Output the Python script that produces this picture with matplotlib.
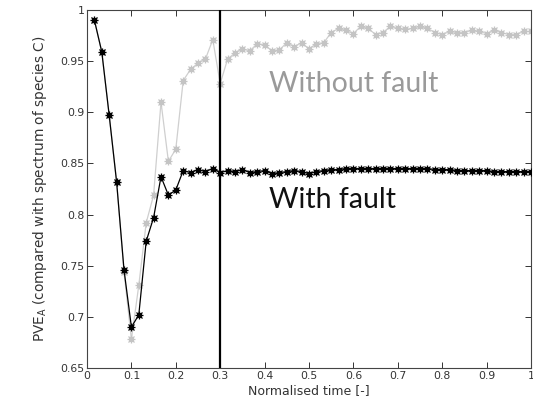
import matplotlib
matplotlib.use("Agg")
import matplotlib.pyplot as plt
import numpy as np

plt.rcParams['font.family'] = ['DejaVu Sans']

# x positions: k/60 for k=1..60
n_points = 60
time = [k / 60 for k in range(1, n_points + 1)]

with_fault = [
    0.990, 0.959, 0.897, 0.832, 0.746, 0.690, 0.702, 0.774, 0.797, 0.837,
    0.819, 0.824, 0.843, 0.841, 0.844, 0.842, 0.845, 0.841, 0.843, 0.842,
    0.844, 0.841, 0.842, 0.843, 0.840, 0.841, 0.842, 0.843, 0.842, 0.840,
    0.842, 0.843, 0.844, 0.844, 0.845, 0.845, 0.845, 0.845, 0.845, 0.845,
    0.845, 0.845, 0.845, 0.845, 0.845, 0.845, 0.844, 0.844, 0.844, 0.843,
    0.843, 0.843, 0.843, 0.843, 0.842, 0.842, 0.842, 0.842, 0.842, 0.842,
]

without_fault = [
    0.990, 0.959, 0.897, 0.832, 0.744, 0.678, 0.731, 0.792, 0.819, 0.910,
    0.852, 0.864, 0.931, 0.942, 0.948, 0.952, 0.971, 0.928, 0.952, 0.958,
    0.962, 0.960, 0.967, 0.966, 0.960, 0.961, 0.968, 0.964, 0.968, 0.962,
    0.967, 0.968, 0.978, 0.982, 0.980, 0.977, 0.984, 0.982, 0.976, 0.978,
    0.984, 0.982, 0.981, 0.982, 0.984, 0.982, 0.978, 0.976, 0.979, 0.978,
    0.978, 0.980, 0.979, 0.977, 0.980, 0.978, 0.976, 0.976, 0.979, 0.979,
]

fault_time = 0.3
x_ticks = [0, 0.1, 0.2, 0.3, 0.4, 0.5, 0.6, 0.7, 0.8, 0.9, 1]
x_ticklabels = ['0', '0.1', '0.2', '0.3', '0.4', '0.5', '0.6', '0.7', '0.8', '0.9', '1']
y_ticks = [0.65, 0.7, 0.75, 0.8, 0.85, 0.9, 0.95, 1]
y_ticklabels = ['0.65', '0.7', '0.75', '0.8', '0.85', '0.9', '0.95', '1']

fig = plt.figure(figsize=(5.33, 4.11), dpi=100)
ax = fig.add_axes([87 / 533, 1 - 368 / 411, (531 - 87) / 533, (368 - 10) / 411])


def draw_series(y, line_col, mark_col, z):
    ax.plot(time, y, color=line_col, lw=0.9, zorder=z)
    ax.plot(time, y, ls='none', marker='o', ms=4.0, mfc=mark_col, mec=mark_col, mew=0, zorder=z)
    ax.plot(time, y, ls='none', marker='+', ms=5.6, mec=mark_col, mew=0.9, zorder=z)
    ax.plot(time, y, ls='none', marker='x', ms=4.4, mec=mark_col, mew=0.9, zorder=z)


draw_series(without_fault, '#cfcfcf', '#c4c4c4', 2)
draw_series(with_fault, 'black', 'black', 3)

ax.axvline(fault_time, color='black', lw=1.6, zorder=4)

ax.text(0.409, 0.920, 'Without fault', color='#9a9a9a', fontsize=20.5,
        family=['Lato', 'DejaVu Sans'], ha='left', va='baseline')
ax.text(0.409, 0.806, 'With fault', color='#111111', fontsize=20.5,
        family=['Lato', 'DejaVu Sans'], ha='left', va='baseline')

ax.set_xlim(0, 1)
ax.set_ylim(0.65, 1)
ax.set_xticks(x_ticks)
ax.set_xticklabels(x_ticklabels)
ax.set_yticks(y_ticks)
ax.set_yticklabels(y_ticklabels)
ax.tick_params(direction='in', top=True, right=True, length=4, width=0.7,
               labelsize=7.8, colors='#333333', labelcolor='#333333', pad=2)
for s in ax.spines.values():
    s.set_color('#444444')
    s.set_linewidth(0.8)

ax.set_xlabel('Normalised time [-]', fontsize=9, color='#333333', labelpad=2)
ax.set_ylabel(r'PVE$_\mathregular{A}$ (compared with spectrum of species C)',
              fontsize=9.8, color='#333333', labelpad=8)

fig.savefig('out.png', dpi=100)
